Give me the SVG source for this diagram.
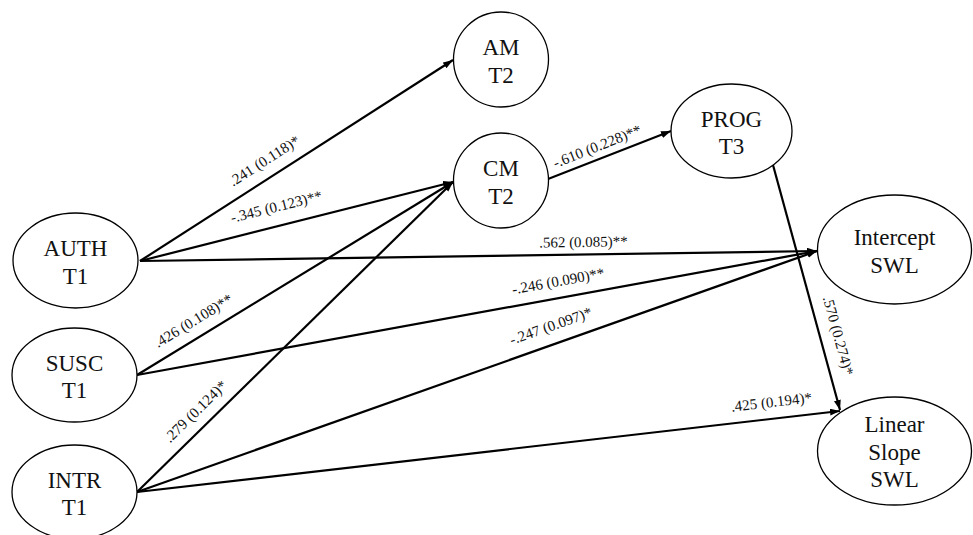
<svg xmlns="http://www.w3.org/2000/svg" width="973" height="535" viewBox="0 0 973 535">
<style>
.node ellipse{fill:#fff;stroke:#000;stroke-width:1.3}
.node text{font-family:"Liberation Serif","Times New Roman",serif;font-size:23px;text-anchor:middle;fill:#111}
.edge{fill:none;stroke:#000;stroke-width:2.2;marker-end:url(#arr)}
.lbl{font-family:"Liberation Serif","Times New Roman",serif;font-size:15px;text-anchor:middle;fill:#111}
</style>
<defs>
<marker id="arr" markerUnits="userSpaceOnUse" markerWidth="11" markerHeight="8" refX="10" refY="3.5" orient="auto">
<path d="M0,0 L10,3.5 L0,7 z" fill="#000"/>
</marker>
</defs>
<rect width="973" height="535" fill="#fff"/>
<g id="connectors">
<line class="edge" x1="140" y1="261" x2="453" y2="60"/>
<line class="edge" x1="140" y1="261" x2="453" y2="182"/>
<line class="edge" x1="137" y1="375" x2="453" y2="182"/>
<line class="edge" x1="137" y1="492" x2="453" y2="182"/>
<line class="edge" x1="548" y1="179" x2="671" y2="131"/>
<line class="edge" x1="140" y1="261" x2="817" y2="251"/>
<line class="edge" x1="137" y1="375" x2="817" y2="251"/>
<line class="edge" x1="137" y1="492" x2="817" y2="251"/>
<line class="edge" x1="137" y1="492" x2="840" y2="411"/>
<line class="edge" x1="773" y1="165" x2="840" y2="410"/>
<g id="edge-labels">
<text class="lbl" transform="translate(267,165) rotate(-32.7)">.241 (0.118)*</text>
<text class="lbl" transform="translate(277.5,211.5) rotate(-14)">-.345 (0.123)**</text>
<text class="lbl" transform="translate(196,325) rotate(-31.4)">.426 (0.108)**</text>
<text class="lbl" transform="translate(199,415) rotate(-44.4)">.279 (0.124)*</text>
<text class="lbl" transform="translate(599,151) rotate(-21.7)">-.610 (0.228)**</text>
<text class="lbl" transform="translate(583.5,247) rotate(-0.8)">.562 (0.085)**</text>
<text class="lbl" transform="translate(559,286) rotate(-10.3)">-.246 (0.090)**</text>
<text class="lbl" transform="translate(552.5,330.6) rotate(-19.5)">-.247 (0.097)*</text>
<text class="lbl" transform="translate(772,407) rotate(-6.6)">.425 (0.194)*</text>
<text class="lbl" transform="translate(833.5,337) rotate(74.8)">.570 (0.274)*</text>
</g>
</g>
<g id="AM" class="node"><ellipse cx="501" cy="59.5" rx="47.5" ry="47.5"/><text x="501" y="55">AM</text><text x="501" y="82.5">T2</text></g>
<g id="CM" class="node"><ellipse cx="501" cy="180.5" rx="47.5" ry="47.5"/><text x="501" y="176">CM</text><text x="501" y="203.5">T2</text></g>
<g id="PROG" class="node"><ellipse cx="731.5" cy="131" rx="60.5" ry="47"/><text x="731.5" y="126.5">PROG</text><text x="731.5" y="154">T3</text></g>
<g id="Intercept" class="node"><ellipse cx="894.5" cy="249.5" rx="77" ry="54.5"/><text x="894.5" y="245">Intercept</text><text x="894.5" y="272.5">SWL</text></g>
<g id="LinearSlope" class="node"><ellipse cx="894.5" cy="451" rx="77" ry="54"/><text x="894.5" y="432">Linear</text><text x="894.5" y="459.5">Slope</text><text x="894.5" y="487">SWL</text></g>
<g id="AUTH" class="node"><ellipse cx="75.5" cy="260.5" rx="62.5" ry="47.5"/><text x="75.5" y="256">AUTH</text><text x="75.5" y="283.5">T1</text></g>
<g id="SUSC" class="node"><ellipse cx="74.5" cy="375" rx="62.5" ry="47"/><text x="74.5" y="370.5">SUSC</text><text x="74.5" y="398">T1</text></g>
<g id="INTR" class="node"><ellipse cx="74.5" cy="492" rx="62.5" ry="47"/><text x="74.5" y="487.5">INTR</text><text x="74.5" y="515">T1</text></g>
</svg>
